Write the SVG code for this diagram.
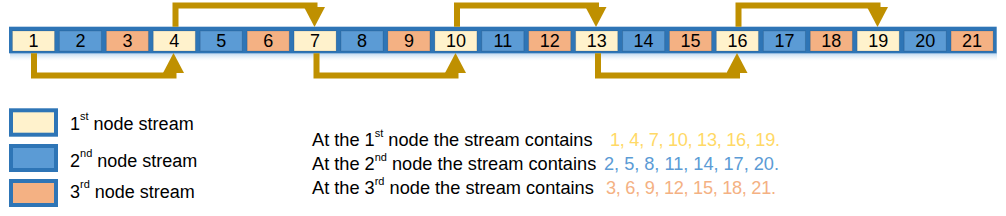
<svg xmlns="http://www.w3.org/2000/svg" width="1006" height="216" viewBox="0 0 1006 216">
<style>
.bar{fill:#2E75B6}
.c1{fill:#FFF2CC;stroke:#000;stroke-opacity:.12;stroke-width:1}
.c2{fill:#5B9BD5;stroke:#000;stroke-opacity:.12;stroke-width:1}
.c3{fill:#F4B183;stroke:#000;stroke-opacity:.12;stroke-width:1}
.num{font-family:"Liberation Sans",Arial,sans-serif;font-size:18px;fill:#000;text-anchor:middle}
.lbl{font-family:"Liberation Sans",Arial,sans-serif;font-size:18px;fill:#000}
.sm{font-size:18.2px}
.sup{font-size:11px}
.arr{fill:none;stroke:#BF9000;stroke-width:6;stroke-linejoin:miter;marker-end:url(#ah)}
.lg{stroke:#2E75B6;stroke-opacity:1;stroke-width:4}
</style>
<defs>
<marker id="ah" markerUnits="userSpaceOnUse" markerWidth="20" markerHeight="21" viewBox="0 0 20 21" refX="0" refY="10.5" orient="auto">
<path d="M0,0 L20,10.5 L0,21 z" fill="#BF9000"/>
</marker>
<linearGradient id="sh" x1="0" y1="0" x2="0" y2="1">
<stop offset="0" stop-color="#9DC3E6" stop-opacity="0.7"/>
<stop offset="1" stop-color="#DEEBF7" stop-opacity="0"/>
</linearGradient>
</defs>
<rect x="10" y="53" width="987" height="8" fill="url(#sh)"/>
<rect class="bar" x="9" y="26.7" width="987.7" height="26.6"/>
<g id="cell1"><rect class="c1" x="12.5" y="31" width="42" height="20"/><text class="num" x="33.5" y="47.3">1</text></g>
<g id="cell2"><rect class="c2" x="59.4" y="31" width="42" height="20"/><text class="num" x="80.4" y="47.3">2</text></g>
<g id="cell3"><rect class="c3" x="106.4" y="31" width="42" height="20"/><text class="num" x="127.4" y="47.3">3</text></g>
<g id="cell4"><rect class="c1" x="153.3" y="31" width="42" height="20"/><text class="num" x="174.3" y="47.3">4</text></g>
<g id="cell5"><rect class="c2" x="200.2" y="31" width="42" height="20"/><text class="num" x="221.2" y="47.3">5</text></g>
<g id="cell6"><rect class="c3" x="247.2" y="31" width="42" height="20"/><text class="num" x="268.2" y="47.3">6</text></g>
<g id="cell7"><rect class="c1" x="294.1" y="31" width="42" height="20"/><text class="num" x="315.1" y="47.3">7</text></g>
<g id="cell8"><rect class="c2" x="341" y="31" width="42" height="20"/><text class="num" x="362" y="47.3">8</text></g>
<g id="cell9"><rect class="c3" x="387.9" y="31" width="42" height="20"/><text class="num" x="408.9" y="47.3">9</text></g>
<g id="cell10"><rect class="c1" x="434.9" y="31" width="42" height="20"/><text class="num" x="455.9" y="47.3">10</text></g>
<g id="cell11"><rect class="c2" x="481.8" y="31" width="42" height="20"/><text class="num" x="502.8" y="47.3">11</text></g>
<g id="cell12"><rect class="c3" x="528.7" y="31" width="42" height="20"/><text class="num" x="549.7" y="47.3">12</text></g>
<g id="cell13"><rect class="c1" x="575.7" y="31" width="42" height="20"/><text class="num" x="596.7" y="47.3">13</text></g>
<g id="cell14"><rect class="c2" x="622.6" y="31" width="42" height="20"/><text class="num" x="643.6" y="47.3">14</text></g>
<g id="cell15"><rect class="c3" x="669.5" y="31" width="42" height="20"/><text class="num" x="690.5" y="47.3">15</text></g>
<g id="cell16"><rect class="c1" x="716.4" y="31" width="42" height="20"/><text class="num" x="737.4" y="47.3">16</text></g>
<g id="cell17"><rect class="c2" x="763.4" y="31" width="42" height="20"/><text class="num" x="784.4" y="47.3">17</text></g>
<g id="cell18"><rect class="c3" x="810.3" y="31" width="42" height="20"/><text class="num" x="831.3" y="47.3">18</text></g>
<g id="cell19"><rect class="c1" x="857.2" y="31" width="42" height="20"/><text class="num" x="878.2" y="47.3">19</text></g>
<g id="cell20"><rect class="c2" x="904.2" y="31" width="42" height="20"/><text class="num" x="925.2" y="47.3">20</text></g>
<g id="cell21"><rect class="c3" x="951.1" y="31" width="42" height="20"/><text class="num" x="972.1" y="47.3">21</text></g>
<g id="connectors">
<path class="arr" d="M34,53.3 V75.5 H173.5 V73"/>
<path class="arr" d="M316.5,53.3 V75.5 H455.5 V73"/>
<path class="arr" d="M598,53.3 V75.5 H737 V73"/>
<path class="arr" d="M175.5,26.7 V5.5 H314.5 V7"/>
<path class="arr" d="M457,26.7 V5.5 H596 V7"/>
<path class="arr" d="M738.5,26.7 V5.5 H877.5 V7"/>
</g>
<g id="legend1"><rect class="c1 lg" x="11" y="110.3" width="45" height="24.4"/><text class="lbl" x="70" y="130">1<tspan class="sup" dy="-10">st</tspan><tspan dy="10"> node stream</tspan></text></g>
<g id="legend2"><rect class="c2 lg" x="11" y="146" width="45" height="24"/><text class="lbl" x="70" y="166.5">2<tspan class="sup" dy="-10">nd</tspan><tspan dy="10"> node stream</tspan></text></g>
<g id="legend3"><rect class="c3 lg" x="11" y="181" width="45" height="24"/><text class="lbl" x="70" y="197.5">3<tspan class="sup" dy="-10">rd</tspan><tspan dy="10"> node stream</tspan></text></g>
<g id="summary">
<text class="lbl sm" x="312" y="146">At the 1<tspan class="sup" dy="-9">st</tspan><tspan dy="9"> node the stream contains</tspan></text>
<text class="lbl sm" x="610" y="146" style="fill:#FFD966" textLength="170" lengthAdjust="spacing">1, 4, 7, 10, 13, 16, 19.</text>
<text class="lbl sm" x="312" y="169.5">At the 2<tspan class="sup" dy="-9">nd</tspan><tspan dy="9"> node the stream contains</tspan></text>
<text class="lbl sm" x="604" y="169.5" style="fill:#5B9BD5" textLength="175" lengthAdjust="spacing">2, 5, 8, 11, 14, 17, 20.</text>
<text class="lbl sm" x="312" y="193.5">At the 3<tspan class="sup" dy="-9">rd</tspan><tspan dy="9"> node the stream contains</tspan></text>
<text class="lbl sm" x="606" y="193.5" style="fill:#F4B183" textLength="170" lengthAdjust="spacing">3, 6, 9, 12, 15, 18, 21.</text>
</g>
</svg>
